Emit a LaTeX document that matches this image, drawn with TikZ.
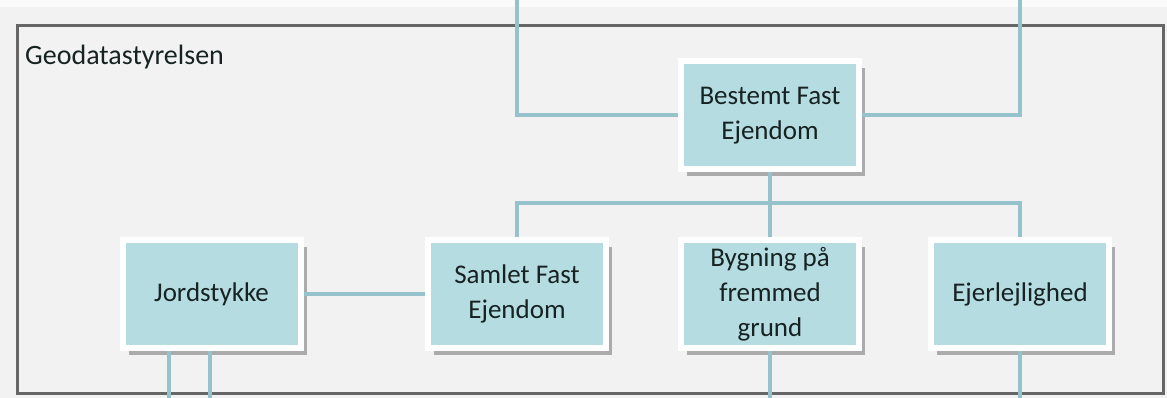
\documentclass[tikz,border=0pt]{standalone}
\usepackage{fontspec}
\setmainfont{Carlito}
\usetikzlibrary{shadows}
\definecolor{boxteal}{HTML}{B5DDE1}
\definecolor{linkteal}{HTML}{96C3CB}
\definecolor{framegrey}{HTML}{666666}
\definecolor{bggrey}{HTML}{F2F2F2}
\definecolor{txtdark}{HTML}{172222}

\begin{document}
\begin{tikzpicture}[x=1pt, y=-1pt,
    unit/.style={draw=white, line width=6pt, fill=boxteal,
      minimum width=178pt, minimum height=108pt, inner sep=0pt,
      align=center, text=txtdark,
      font=\fontsize{27}{35}\selectfont,
      drop shadow={shadow xshift=6pt, shadow yshift=-7pt, fill=black!60, opacity=.5}},
    link/.style={draw=linkteal, line width=4pt}]
    \useasboundingbox (0, 0) rectangle (1167, 398);
    \fill [bggrey] (0, 7) rectangle (1167, 398);
    \fill [white!98!black] (0, 0) rectangle (1167, 7);

    \draw [framegrey, line width=3pt] (17, 26) rectangle (1163, 393);
    \node [anchor=base west, text=txtdark, inner sep=0pt,
      font=\fontsize{28}{34}\selectfont] (title) at (25, 65) {Geodatastyrelsen};

    \node [unit] (bfe) at (770, 115.5) {Bestemt Fast\\Ejendom};
    \node [unit] (js) at (211.5, 294) {Jordstykke};
    \node [unit] (sfe) at (517, 294) {Samlet Fast\\Ejendom};
    \node [unit] (bpf) at (770, 294) {Bygning på\\fremmed\\grund};
    \node [unit] (ejl) at (1020, 294) {Ejerlejlighed};

    \coordinate (topL) at (517, 0);
    \coordinate (topR) at (1020, 0);
    \coordinate (bus) at (770, 203);
    \coordinate (jsA) at (169, 398);
    \coordinate (jsB) at (210, 398);
    \coordinate (bpfEnd) at (770, 398);
    \coordinate (ejlEnd) at (1020, 398);

    \draw [link] (bfe.west) -| (topL);
    \draw [link] (bfe.east) -| (topR);
    \draw [link] (bfe.south) -- (bpf.north);
    \draw [link] (sfe.north) |- (bus) -| (ejl.north);
    \draw [link] (js.east) -- (sfe.west);
    \draw [link] (jsA |- js.south) -- (jsA);
    \draw [link] (jsB |- js.south) -- (jsB);
    \draw [link] (bpf.south) -- (bpfEnd);
    \draw [link] (ejl.south) -- (ejlEnd);
  \end{tikzpicture}
\end{document}
